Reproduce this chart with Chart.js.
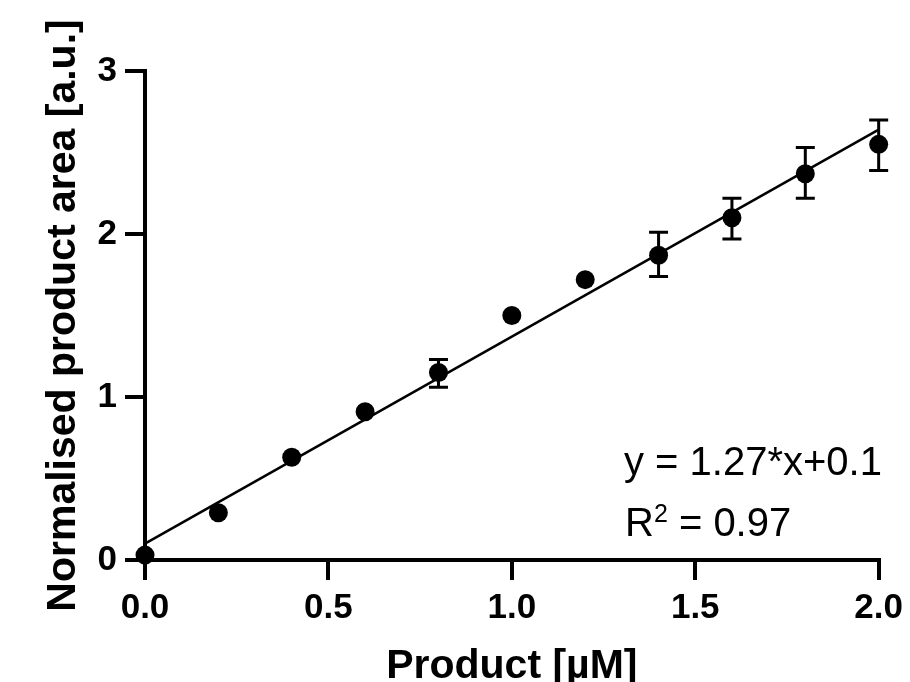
<!DOCTYPE html>
<html>
<head>
<meta charset="utf-8">
<script src="https://cdn.jsdelivr.net/npm/chart.js@4.4.1/dist/chart.umd.min.js"></script>
<style>
  html, body { margin: 0; padding: 0; background: #fff; overflow: hidden; }
  #wrap { width: 910px; height: 682px; }
</style>
</head>
<body>
<div id="wrap"><canvas id="c" width="910" height="682"></canvas></div>
<script>
// ---- data ----
const productConc = [0.0, 0.2, 0.4, 0.6, 0.8, 1.0, 1.2, 1.4, 1.6, 1.8, 2.0];
const areaMean    = [0.03, 0.29, 0.63, 0.91, 1.15, 1.50, 1.72, 1.87, 2.10, 2.37, 2.55];
const areaErrLow  = [null, null, null, null, 1.06, null, null, 1.74, 1.97, 2.22, 2.39];
const areaErrHigh = [null, null, null, null, 1.23, null, null, 2.01, 2.22, 2.53, 2.70];
const fitX = [0.0, 2.0];
const fitY = [0.1, 2.64];
const xTickLabels = ['0.0', '0.5', '1.0', '1.5', '2.0'];
const yTickLabels = ['0', '1', '2', '3'];
const equationText = 'y = 1.27*x+0.1';
const r2Value = '0.97';

const FONT = '"Liberation Sans", Arial, Helvetica, sans-serif';

const errorBarPlugin = {
  id: 'errorBars',
  afterDatasetsDraw(chart) {
    const ctx = chart.ctx;
    const xs = chart.scales.x, ys = chart.scales.y;
    ctx.save();
    ctx.strokeStyle = '#000';
    ctx.lineWidth = 3;
    for (let i = 0; i < productConc.length; i++) {
      if (areaErrLow[i] == null) continue;
      const px = xs.getPixelForValue(productConc[i]);
      const pLo = ys.getPixelForValue(areaErrLow[i]);
      const pHi = ys.getPixelForValue(areaErrHigh[i]);
      const cap = 9.5;
      ctx.beginPath();
      ctx.moveTo(px, pLo); ctx.lineTo(px, pHi);
      ctx.moveTo(px - cap, pLo); ctx.lineTo(px + cap, pLo);
      ctx.moveTo(px - cap, pHi); ctx.lineTo(px + cap, pHi);
      ctx.stroke();
    }
    ctx.restore();
  }
};

const annotationPlugin = {
  id: 'fitText',
  afterDraw(chart) {
    const ctx = chart.ctx;
    ctx.save();
    ctx.fillStyle = '#000';
    ctx.textBaseline = 'alphabetic';
    ctx.textAlign = 'left';
    ctx.font = '40px ' + FONT;
    const x0 = 624;
    ctx.fillText(equationText, x0, 475);
    ctx.fillText('R', x0 + 1, 536);
    const rw = ctx.measureText('R').width;
    ctx.font = '25px ' + FONT;
    ctx.fillText('2', x0 + 1 + rw, 522);
    const sw = ctx.measureText('2').width;
    ctx.font = '40px ' + FONT;
    ctx.fillText(' = ' + r2Value, x0 + 1 + rw + sw, 536);
    ctx.restore();
  }
};

const ctx = document.getElementById('c').getContext('2d');
new Chart(ctx, {
  type: 'scatter',
  data: {
    datasets: [
      {
        label: 'Data',
        data: productConc.map((x, i) => ({ x: x, y: areaMean[i] })),
        backgroundColor: '#000',
        borderColor: '#000',
        borderWidth: 0,
        pointRadius: 9.5,
        pointHoverRadius: 9.5,
        clip: false,
        order: 0
      },
      {
        label: 'Fit',
        data: fitX.map((x, i) => ({ x: x, y: fitY[i] })),
        showLine: true,
        borderColor: '#000',
        borderWidth: 2.5,
        pointRadius: 0,
        fill: false,
        clip: false,
        order: 1
      }
    ]
  },
  options: {
    responsive: false,
    animation: false,
    devicePixelRatio: 1,
    layout: { padding: { left: 0, right: 31, top: 71, bottom: 0 } },
    plugins: {
      legend: { display: false },
      tooltip: { enabled: false },
      title: { display: false }
    },
    scales: {
      x: {
        type: 'linear',
        min: 0, max: 2,
        afterFit(scale) { scale.height = 122; },
        afterBuildTicks(scale) {
          scale.ticks = xTickLabels.map(t => ({ value: parseFloat(t) }));
        },
        ticks: {
          autoSkip: false, maxRotation: 0, padding: 7,
          color: '#000',
          font: { family: FONT, size: 35, weight: 'bold' },
          callback: (v, i) => xTickLabels[i]
        },
        grid: {
          display: true, drawOnChartArea: false, drawTicks: true,
          tickLength: 20, lineWidth: 4, color: '#000'
        },
        border: { display: true, width: 4, color: '#000' },
        title: {
          display: true, text: 'Product [µM]', color: '#000',
          font: { family: FONT, size: 41, weight: 'bold', lineHeight: 1.2 },
          padding: { top: 0, bottom: -9 }
        }
      },
      y: {
        type: 'linear',
        min: 0, max: 3,
        afterFit(scale) { scale.width = 145; },
        afterBuildTicks(scale) {
          scale.ticks = yTickLabels.map(t => ({ value: parseFloat(t) }));
        },
        ticks: {
          padding: 8, color: '#000',
          font: { family: FONT, size: 35, weight: 'bold' },
          callback: (v, i) => yTickLabels[i]
        },
        grid: {
          display: true, drawOnChartArea: false, drawTicks: true,
          tickLength: 20, lineWidth: 4, color: '#000'
        },
        border: { display: true, width: 4, color: '#000' },
        title: {
          display: true, text: 'Normalised product area [a.u.]', color: '#000',
          font: { family: FONT, size: 41, weight: 'bold', lineHeight: 1.2 },
          padding: { top: 39, bottom: 0 }
        }
      }
    }
  },
  plugins: [errorBarPlugin, annotationPlugin]
});
</script>
</body>
</html>
